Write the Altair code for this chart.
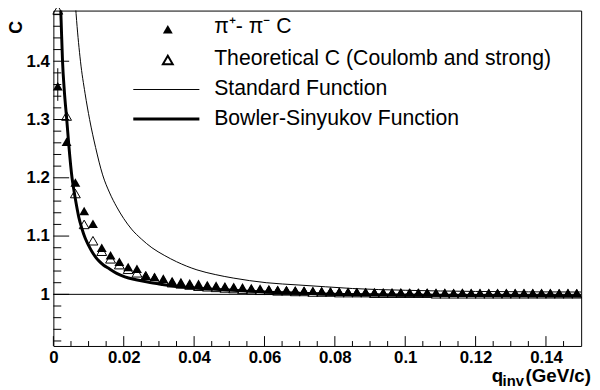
import altair as alt
import pandas as pd

# ---------------- data ----------------
q_bins = [0.00125, 0.00375, 0.00625, 0.00875, 0.01125, 0.01375, 0.01625, 0.01875,
          0.02125, 0.02375, 0.02625, 0.02875, 0.03125, 0.03375, 0.03625, 0.03875,
          0.04125, 0.04375, 0.04625, 0.04875, 0.05125, 0.05375, 0.05625, 0.05875,
          0.06125, 0.06375, 0.06625, 0.06875, 0.07125, 0.07375, 0.07625, 0.07875,
          0.08125, 0.08375, 0.08625, 0.08875, 0.09125, 0.09375, 0.09625, 0.09875,
          0.10125, 0.10375, 0.10625, 0.10875, 0.11125, 0.11375, 0.11625, 0.11875,
          0.12125, 0.12375, 0.12625, 0.12875, 0.13125, 0.13375, 0.13625, 0.13875,
          0.14125, 0.14375, 0.14625, 0.14875]

pipi_C = [1.357, 1.262, 1.192, 1.143, 1.121, 1.080, 1.067, 1.056,
          1.047, 1.044, 1.032, 1.030, 1.027, 1.023, 1.021, 1.019,
          1.018, 1.016, 1.015, 1.014, 1.013, 1.012, 1.011, 1.010,
          1.009, 1.008, 1.0075, 1.007, 1.0065, 1.006, 1.0055, 1.005,
          1.0047, 1.0045, 1.0042, 1.004, 1.0038, 1.0036, 1.0035, 1.0034,
          1.0033, 1.0032, 1.0031, 1.003, 1.0031, 1.0029, 1.003, 1.0028,
          1.0029, 1.0027, 1.0028, 1.0026, 1.0027, 1.0026, 1.0025, 1.0026,
          1.0025, 1.0024, 1.0025, 1.0024]

theory_C = [1.488, 1.306, 1.173, 1.120, 1.092, 1.074, 1.061, 1.051,
            1.043, 1.037, 1.032, 1.028, 1.024, 1.020, 1.018, 1.016,
            1.014, 1.013, 1.012, 1.011, 1.010, 1.009, 1.008, 1.007,
            1.007, 1.006, 1.006, 1.005, 1.005, 1.004, 1.004, 1.004,
            1.003, 1.003, 1.003, 1.003, 1.002, 1.002, 1.002, 1.002,
            1.002, 1.002, 1.002, 1.001, 1.001, 1.001, 1.001, 1.001,
            1.001, 1.001, 1.001, 1.001, 1.001, 1.001, 1.001, 1.001,
            1.001, 1.001, 1.001, 1.001]

err_q = [0.00125]
err_lo = [1.332]
err_hi = [1.388]

std_q = [0.0060, 0.0066, 0.0077, 0.0090, 0.0103, 0.0120, 0.0140, 0.0160, 0.0180,
         0.0200, 0.0222, 0.0250, 0.0280, 0.0315, 0.0350, 0.0408, 0.0460, 0.0511,
         0.0605, 0.0698, 0.0773, 0.0850, 0.1000, 0.1200, 0.1500]
std_C = [1.52, 1.47, 1.40, 1.345, 1.30, 1.252, 1.205, 1.174, 1.150,
         1.130, 1.112, 1.095, 1.080, 1.067, 1.056, 1.042, 1.034, 1.028,
         1.020, 1.016, 1.013, 1.010, 1.007, 1.005, 1.004]

bs_q = [0.0019, 0.0022, 0.0026, 0.0031, 0.0038, 0.0044, 0.0053, 0.0058, 0.0065,
        0.0072, 0.0081, 0.0090, 0.0100, 0.0109, 0.0120, 0.0130, 0.0143, 0.0156,
        0.0180, 0.0203, 0.0235, 0.0268, 0.0310, 0.0352, 0.0400, 0.0450, 0.0510,
        0.0600, 0.0700, 0.0800, 0.0950, 0.1200, 0.1500]
bs_C = [1.52, 1.47, 1.40, 1.35, 1.30, 1.255, 1.20, 1.18, 1.155,
        1.133, 1.113, 1.097, 1.084, 1.074, 1.064, 1.057, 1.050, 1.045,
        1.036, 1.030, 1.025, 1.021, 1.017, 1.0135, 1.011, 1.009, 1.007,
        1.004, 1.002, 1.000, 0.999, 0.998, 0.997]

x_major = [0.0, 0.02, 0.04, 0.06, 0.08, 0.10, 0.12, 0.14]
x_minor = [0.005, 0.01, 0.015, 0.025, 0.03, 0.035, 0.045, 0.05, 0.055, 0.065,
           0.07, 0.075, 0.085, 0.09, 0.095, 0.105, 0.11, 0.115, 0.125, 0.13,
           0.135, 0.145]
y_major = [1.0, 1.1, 1.2, 1.3, 1.4]
y_minor = [0.92, 0.94, 0.96, 0.98, 1.02, 1.04, 1.06, 1.08, 1.12, 1.14, 1.16,
           1.18, 1.22, 1.24, 1.26, 1.28, 1.32, 1.34, 1.36, 1.38, 1.42, 1.44,
           1.46, 1.48]

legend_labels = ["π⁺- π⁻ C", "Theoretical C (Coulomb and strong)",
                 "Standard Function", "Bowler-Sinyukov Function"]
x_title = ["q", "inv", "(GeV/c)"]
y_title = "C"

# ---------------- chart ----------------
W, H = 535, 340
FONT = "Liberation Sans"
INK = "black"

xs = alt.Scale(domain=[0, 0.15], nice=False, zero=False)
ys = alt.Scale(domain=[0.9114, 1.4869], nice=False, zero=False)

ax_x = alt.Axis(values=x_major, format="~g", labelFont=FONT, labelFontWeight="bold",
                labelFontSize=17, labelColor=INK, ticks=False, tickSize=0, domain=False,
                grid=False, title=None, labelPadding=4, labelFlush=False,
                labelOverlap=False)
ax_y = alt.Axis(values=y_major, format="~g", labelFont=FONT, labelFontWeight="bold",
                labelFontSize=17, labelColor=INK, ticks=False, tickSize=0, domain=False,
                grid=False, title=None, labelPadding=4, labelOverlap=False)


def X(field):
    return alt.X(field, type="quantitative", scale=xs, axis=ax_x)


def Y(field):
    return alt.Y(field, type="quantitative", scale=ys, axis=ax_y)


df_pts = pd.DataFrame({"q": q_bins, "C": pipi_C, "T": theory_C})
df_err = pd.DataFrame({"q": err_q, "lo": err_lo, "hi": err_hi})
df_std = pd.DataFrame({"q": std_q, "C": std_C})
df_bs = pd.DataFrame({"q": bs_q, "C": bs_C})

one_line = alt.Chart(pd.DataFrame({"q": [0.0], "q2": [0.15], "C": [1.0]})).mark_rule(
    color=INK, strokeWidth=1).encode(x=X("q"), x2="q2:Q", y=Y("C"))

std_line = alt.Chart(df_std).mark_line(
    color=INK, strokeWidth=1, clip=True, interpolate="monotone").encode(
    x=X("q"), y=Y("C"))

bs_line = alt.Chart(df_bs).mark_line(
    color=INK, strokeWidth=3, clip=True, interpolate="monotone").encode(
    x=X("q"), y=Y("C"))

open_pts = alt.Chart(df_pts).mark_point(
    shape="triangle-up", filled=False, size=100, color=INK, strokeWidth=1,
    opacity=1).encode(x=X("q"), y=Y("T"))

filled_pts = alt.Chart(df_pts).mark_point(
    shape="triangle-up", filled=True, size=100, color=INK, opacity=1).encode(
    x=X("q"), y=Y("C"))

err_bar = alt.Chart(df_err).mark_rule(color=INK, strokeWidth=1).encode(
    x=X("q"), y=Y("lo"), y2="hi:Q")

# inward ticks
xt_major = alt.Chart(pd.DataFrame({"q": x_major})).mark_rule(color=INK).encode(
    x=X("q"), y=alt.value(H), y2=alt.value(H - 10))
xt_minor = alt.Chart(pd.DataFrame({"q": x_minor})).mark_rule(color=INK).encode(
    x=X("q"), y=alt.value(H), y2=alt.value(H - 5))
yt_major = alt.Chart(pd.DataFrame({"C": y_major})).mark_rule(color=INK).encode(
    y=Y("C"), x=alt.value(0), x2=alt.value(16))
yt_minor = alt.Chart(pd.DataFrame({"C": y_minor})).mark_rule(color=INK).encode(
    y=Y("C"), x=alt.value(0), x2=alt.value(8))


def one(text):
    return pd.DataFrame({"t": [text]})


# legend (ROOT style, no border)
LX_SYM, LX_L1, LX_L2, LX_TXT = 116, 81, 148, 163
ROWS = [17, 49, 80, 110]

leg = [
    alt.Chart(one(legend_labels[0])).mark_point(
        shape="triangle-up", filled=True, size=100, color=INK, opacity=1).encode(
        x=alt.value(LX_SYM), y=alt.value(ROWS[0] + 2)),
    alt.Chart(one(legend_labels[1])).mark_point(
        shape="triangle-up", filled=False, size=100, color=INK, opacity=1).encode(
        x=alt.value(LX_SYM), y=alt.value(ROWS[1] + 1)),
    alt.Chart(one(legend_labels[2])).mark_rule(color=INK, strokeWidth=1).encode(
        x=alt.value(LX_L1), x2=alt.value(LX_L2), y=alt.value(ROWS[2])),
    alt.Chart(one(legend_labels[3])).mark_rule(color=INK, strokeWidth=3).encode(
        x=alt.value(LX_L1), x2=alt.value(LX_L2), y=alt.value(ROWS[3])),
]
for i, lab in enumerate(legend_labels):
    leg.append(alt.Chart(one(lab)).mark_text(
        font=FONT, fontSize=21.5, color=INK, align="left", baseline="middle").encode(
        x=alt.value(LX_TXT), y=alt.value(ROWS[i]), text="t:N"))

# axis titles
titles = [
    alt.Chart(one(y_title)).mark_text(
        font=FONT, fontSize=18, fontWeight="bold", color=INK, angle=270,
        align="center", baseline="middle").encode(
        x=alt.value(-37), y=alt.value(17), text="t:N"),
    alt.Chart(one(x_title[2])).mark_text(
        font=FONT, fontSize=19, fontWeight="bold", color=INK, align="right",
        baseline="alphabetic").encode(x=alt.value(545), y=alt.value(377), text="t:N"),
    alt.Chart(one(x_title[1])).mark_text(
        font=FONT, fontSize=15, fontWeight="bold", color=INK, align="right",
        baseline="alphabetic").encode(x=alt.value(477), y=alt.value(381), text="t:N"),
    alt.Chart(one(x_title[0])).mark_text(
        font=FONT, fontSize=19, fontWeight="bold", color=INK, align="right",
        baseline="alphabetic").encode(x=alt.value(456), y=alt.value(377), text="t:N"),
]

chart = alt.layer(
    one_line, std_line, bs_line, open_pts, filled_pts, err_bar,
    xt_major, xt_minor, yt_major, yt_minor, *leg, *titles
).properties(
    width=W, height=H,
    autosize=alt.AutoSizeParams(type="none"),
    padding={"left": 46, "top": 0, "right": 11, "bottom": 42},
    background="white",
).configure_view(stroke=INK, strokeWidth=1)

chart.save("out.html", embed_options={"renderer": "svg", "actions": False})
